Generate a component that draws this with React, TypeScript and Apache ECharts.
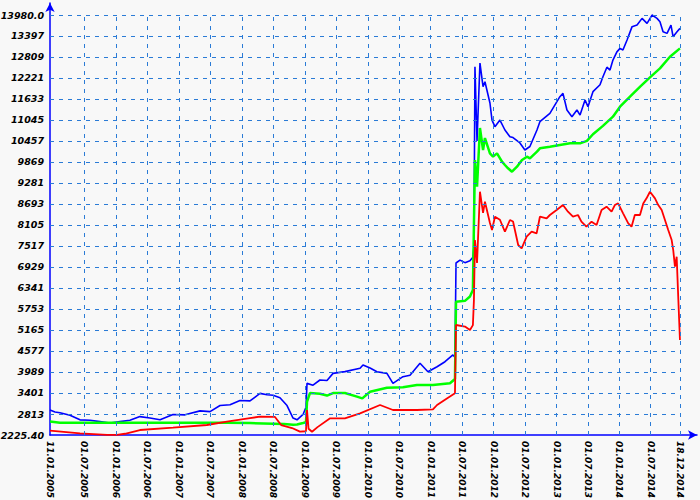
import React, { useEffect, useRef } from "react";
import * as echarts from "echarts";

// ---------- axis ticks ----------
const xTickDates = [
  "2004-12-13", "2004-12-14",
  "2005-07-01", "2006-01-01", "2006-07-01", "2007-01-01", "2007-07-01",
  "2008-01-01", "2008-07-01", "2009-01-01", "2009-07-01", "2010-01-01",
  "2010-07-01", "2011-01-01", "2011-07-01", "2012-01-01", "2012-07-01",
  "2013-01-01", "2013-07-01", "2014-01-01", "2014-07-01", "2014-12-18",
];
const xTickLabels = [
  "03.01.2005", "11.01.2005",
  "01.07.2005", "01.01.2006", "01.07.2006", "01.01.2007", "01.07.2007",
  "01.01.2008", "01.07.2008", "01.01.2009", "01.07.2009", "01.01.2010",
  "01.07.2010", "01.01.2011", "01.07.2011", "01.01.2012", "01.07.2012",
  "01.01.2013", "01.07.2013", "01.01.2014", "01.07.2014", "18.12.2014",
];
const xAxisMin = "2004-12-13";
const xAxisMax = "2015-03-27";

const yTickLabels = [
  "2225.40", "2813", "3401", "3989", "4577", "5165", "5753", "6341", "6929",
  "7517", "8105", "8693", "9281", "9869", "10457", "11045", "11633", "12221",
  "12809", "13397", "13980.0",
];
const yAxisMax = 14317;

// ---------- series ----------
const blueData: [string, number][] = [
  ["2004-12-13", 2925], ["2005-01-11", 2870], ["2005-02-09", 2850], ["2005-04-08", 2780],
  ["2005-06-05", 2650], ["2005-08-02", 2640], ["2005-09-29", 2600], ["2005-11-26", 2560],
  ["2006-01-23", 2600], ["2006-03-22", 2640], ["2006-05-19", 2740], ["2006-07-16", 2700],
  ["2006-09-13", 2650], ["2006-11-27", 2800], ["2007-02-05", 2790], ["2007-05-03", 2900],
  ["2007-06-30", 2880], ["2007-08-27", 3050], ["2007-10-24", 3070], ["2007-12-21", 3190],
  ["2008-02-17", 3180], ["2008-04-15", 3390], ["2008-05-26", 3350], ["2008-06-30", 3340],
  ["2008-08-09", 3270], ["2008-09-19", 3050], ["2008-10-24", 2700], ["2008-11-16", 2650],
  ["2008-12-21", 2800], ["2009-01-07", 3000], ["2009-01-13", 3670], ["2009-02-17", 3620],
  ["2009-03-29", 3765], ["2009-05-09", 3750], ["2009-06-13", 3950], ["2009-08-21", 4000],
  ["2009-11-17", 4092], ["2009-12-04", 4185], ["2010-01-14", 4100], ["2010-02-23", 3997],
  ["2010-04-22", 3950], ["2010-05-27", 3672], ["2010-07-24", 3857], ["2010-09-03", 3900],
  ["2010-10-31", 4232], ["2010-12-16", 3997], ["2011-02-07", 4137], ["2011-03-25", 4277],
  ["2011-05-10", 4465], ["2011-05-22", 4400], ["2011-05-28", 7040], ["2011-06-20", 7120],
  ["2011-07-19", 7050], ["2011-08-17", 7100], ["2011-09-03", 7200], ["2011-09-09", 7500],
  ["2011-09-15", 12534], ["2011-09-27", 10457], ["2011-10-14", 12637], ["2011-11-01", 11975],
  ["2011-11-12", 12114], ["2011-12-11", 11518], ["2011-12-23", 11040], ["2012-01-09", 10855],
  ["2012-02-07", 11040], ["2012-03-07", 10762], ["2012-04-05", 10575], ["2012-04-23", 10550],
  ["2012-06-02", 10400], ["2012-07-01", 10203], ["2012-07-30", 10300], ["2012-09-09", 10762],
  ["2012-09-26", 10994], ["2012-11-23", 11230], ["2013-01-20", 11695], ["2013-02-07", 11788],
  ["2013-03-02", 11322], ["2013-03-31", 11135], ["2013-04-29", 11322], ["2013-05-17", 11180],
  ["2013-06-15", 11602], ["2013-07-02", 11415], ["2013-07-31", 11835], ["2013-09-10", 12030],
  ["2013-09-27", 12254], ["2013-10-20", 12520], ["2013-11-07", 12440], ["2013-11-24", 12720],
  ["2013-12-17", 12950], ["2014-01-04", 13046], ["2014-01-21", 13000], ["2014-02-14", 13282],
  ["2014-03-15", 13655], ["2014-04-13", 13700], ["2014-05-12", 13887], ["2014-06-10", 13747],
  ["2014-07-09", 13980], ["2014-08-07", 13887], ["2014-08-24", 13794], ["2014-09-11", 13514],
  ["2014-10-04", 13467], ["2014-10-27", 13700], ["2014-11-08", 13374], ["2014-12-01", 13514],
  ["2014-12-18", 13607],
];

const greenData: [string, number][] = [
  ["2004-12-13", 2600], ["2005-02-09", 2570], ["2006-01-01", 2570], ["2007-01-01", 2570],
  ["2007-10-06", 2570], ["2008-02-17", 2560], ["2008-06-30", 2540], ["2008-09-01", 2530],
  ["2008-10-24", 2510], ["2008-11-16", 2520], ["2008-12-21", 2560], ["2009-01-07", 2580],
  ["2009-01-13", 3150], ["2009-01-30", 3400], ["2009-03-29", 3380], ["2009-05-09", 3330],
  ["2009-06-13", 3400], ["2009-08-21", 3400], ["2009-10-30", 3300], ["2009-11-30", 3250],
  ["2010-01-14", 3437], ["2010-04-22", 3549], ["2010-07-24", 3560], ["2010-10-13", 3625],
  ["2011-01-14", 3625], ["2011-04-23", 3672], ["2011-05-22", 3793], ["2011-05-28", 5956],
  ["2011-07-19", 5980], ["2011-08-17", 6100], ["2011-09-03", 6284], ["2011-09-15", 9922],
  ["2011-09-27", 9175], ["2011-10-14", 10818], ["2011-11-01", 10203], ["2011-11-12", 10538],
  ["2011-12-11", 10109], ["2011-12-29", 10016], ["2012-01-21", 10109], ["2012-02-19", 9876],
  ["2012-03-07", 9783], ["2012-03-25", 9690], ["2012-04-17", 9595], ["2012-05-16", 9736],
  ["2012-06-14", 9922], ["2012-07-13", 10016], ["2012-07-30", 9970], ["2012-09-09", 10156],
  ["2012-09-26", 10249], ["2012-11-23", 10295], ["2013-01-20", 10342], ["2013-03-20", 10389],
  ["2013-05-17", 10389], ["2013-06-26", 10457], ["2013-07-31", 10644], ["2013-09-27", 10878],
  ["2013-11-24", 11135], ["2014-01-04", 11415], ["2014-03-03", 11695], ["2014-05-01", 11975],
  ["2014-06-27", 12236], ["2014-08-24", 12487], ["2014-10-21", 12814], ["2014-12-18", 13046],
];

const redData: [string, number][] = [
  ["2004-12-13", 2345], ["2005-06-05", 2272], ["2005-11-09", 2230], ["2006-01-06", 2228],
  ["2006-02-21", 2260], ["2006-05-19", 2365], ["2006-11-27", 2430], ["2007-06-12", 2505],
  ["2007-10-06", 2598], ["2008-02-17", 2700], ["2008-04-15", 2737], ["2008-07-11", 2730],
  ["2008-08-16", 2505], ["2008-10-18", 2420], ["2008-12-03", 2318], ["2009-01-07", 2330],
  ["2009-01-13", 2925], ["2009-01-22", 2400], ["2009-02-11", 2318], ["2009-03-15", 2446],
  ["2009-05-27", 2692], ["2009-08-21", 2692], ["2009-11-17", 2832], ["2010-03-13", 3065],
  ["2010-05-27", 2925], ["2010-10-13", 2925], ["2011-01-14", 2940], ["2011-02-07", 3065],
  ["2011-04-05", 3250], ["2011-05-22", 3392], ["2011-05-28", 5304], ["2011-07-19", 5260],
  ["2011-08-17", 5165], ["2011-09-03", 5300], ["2011-09-09", 6000], ["2011-09-15", 7683],
  ["2011-09-27", 7040], ["2011-10-14", 9035], ["2011-11-01", 8440], ["2011-11-12", 8755],
  ["2011-12-11", 8160], ["2011-12-23", 7963], ["2012-01-09", 8335], ["2012-02-07", 8250],
  ["2012-03-07", 7915], ["2012-04-05", 8243], ["2012-04-23", 8200], ["2012-05-23", 7543],
  ["2012-06-12", 7450], ["2012-07-11", 7776], ["2012-08-09", 7915], ["2012-09-07", 7870],
  ["2012-09-26", 8335], ["2012-11-04", 8290], ["2012-11-23", 8383], ["2013-01-01", 8523],
  ["2013-02-07", 8662], ["2013-03-08", 8475], ["2013-04-06", 8335], ["2013-05-05", 8383],
  ["2013-05-25", 8196], ["2013-06-23", 8055], ["2013-07-23", 8196], ["2013-08-21", 8103],
  ["2013-09-19", 8523], ["2013-10-18", 8615], ["2013-11-16", 8475], ["2013-12-05", 8662],
  ["2013-12-24", 8708], ["2014-01-22", 8430], ["2014-02-21", 8150], ["2014-03-12", 8055],
  ["2014-03-31", 8383], ["2014-04-30", 8383], ["2014-05-19", 8708], ["2014-06-07", 8849],
  ["2014-06-27", 9035], ["2014-07-26", 8849], ["2014-08-14", 8662], ["2014-09-03", 8523],
  ["2014-09-22", 8243], ["2014-10-11", 7963], ["2014-10-31", 7683], ["2014-11-09", 7403],
  ["2014-11-19", 6936], ["2014-11-29", 7216], ["2014-12-08", 6096], ["2014-12-18", 4884],
];

const toTime = (d: string) => +echarts.time.parse(d);
const toPoints = (rows: [string, number][]) => rows.map(([d, v]) => [toTime(d), v]);
const xTickValues = xTickDates.map(toTime);
const yTickValues = yTickLabels.map(Number);

export default function App() {
  const ref = useRef<HTMLDivElement>(null);

  useEffect(() => {
    document.body.style.margin = "0";
    if (!ref.current) return;
    const chart = echarts.init(ref.current, undefined, { renderer: "svg" });
    const gridColor = "#2b7bd6";
    const axisColor = "#0000ff";
    const labelFont = {
      fontFamily: "DejaVu Sans",
      fontWeight: "bold" as const,
      fontStyle: "italic" as const,
      color: "#000",
    };
    const xFirst = xTickValues[0];
    const xLast = xTickValues[xTickValues.length - 1];
    const yFirst = yTickValues[0];
    const yLast = yTickValues[yTickValues.length - 1];
    const gridLines = [
      ...yTickValues.slice(1).map((v) => [{ coord: [xFirst, v] }, { coord: [xLast, v] }]),
      ...xTickValues.slice(2).map((t) => [{ coord: [t, yFirst] }, { coord: [t, yLast] }]),
    ];
    const axisCommon = {
      axisLine: {
        show: true,
        lineStyle: { color: axisColor, width: 1.5 },
        symbol: ["none", "arrow"],
        symbolSize: [7, 9],
      },
      splitLine: { show: false },
    };
    chart.setOption({
      animation: false,
      backgroundColor: "#f8f8f8",
      grid: { left: 50, right: 3, top: 3, bottom: 65, containLabel: false, outerBoundsMode: "none" },
      xAxis: {
        type: "value",
        min: toTime(xAxisMin),
        max: toTime(xAxisMax),
        ...axisCommon,
        axisTick: { show: false, customValues: xTickValues },
        axisLabel: {
          ...labelFont,
          fontSize: 9,
          rotate: -90,
          margin: 6,
          hideOverlap: false,
          customValues: xTickValues,
          formatter: (value: number) => {
            const i = xTickValues.findIndex((t) => Math.abs(t - value) < 3600e3);
            return i >= 0 ? xTickLabels[i] : "";
          },
        },
      },
      yAxis: {
        type: "value",
        min: yFirst,
        max: yAxisMax,
        ...axisCommon,
        axisTick: { show: false, customValues: yTickValues },
        axisLabel: {
          ...labelFont,
          fontSize: 9.5,
          margin: 6,
          hideOverlap: false,
          customValues: yTickValues,
          formatter: (value: number) => {
            const i = yTickValues.findIndex((t) => Math.abs(t - value) < 0.5);
            return i >= 0 ? yTickLabels[i] : "";
          },
        },
      },
      series: [
        {
          type: "line",
          data: [],
          z: 1,
          silent: true,
          markLine: {
            silent: true,
            symbol: ["none", "none"],
            label: { show: false },
            lineStyle: { color: gridColor, type: [4, 5], width: 1 },
            emphasis: { disabled: true },
            data: gridLines,
          },
        },
        {
          type: "line",
          data: toPoints(blueData),
          z: 2,
          showSymbol: false,
          lineStyle: { color: "#0000ff", width: 1.6 },
          itemStyle: { color: "#0000ff" },
        },
        {
          type: "line",
          data: toPoints(greenData),
          z: 2,
          showSymbol: false,
          lineStyle: { color: "#00ff00", width: 2.5 },
          itemStyle: { color: "#00ff00" },
        },
        {
          type: "line",
          data: toPoints(redData),
          z: 2,
          showSymbol: false,
          lineStyle: { color: "#ff0000", width: 1.8 },
          itemStyle: { color: "#ff0000" },
        },
      ],
    });
    return () => chart.dispose();
  }, []);

  return <div ref={ref} style={{ width: 700, height: 500 }} />;
}
